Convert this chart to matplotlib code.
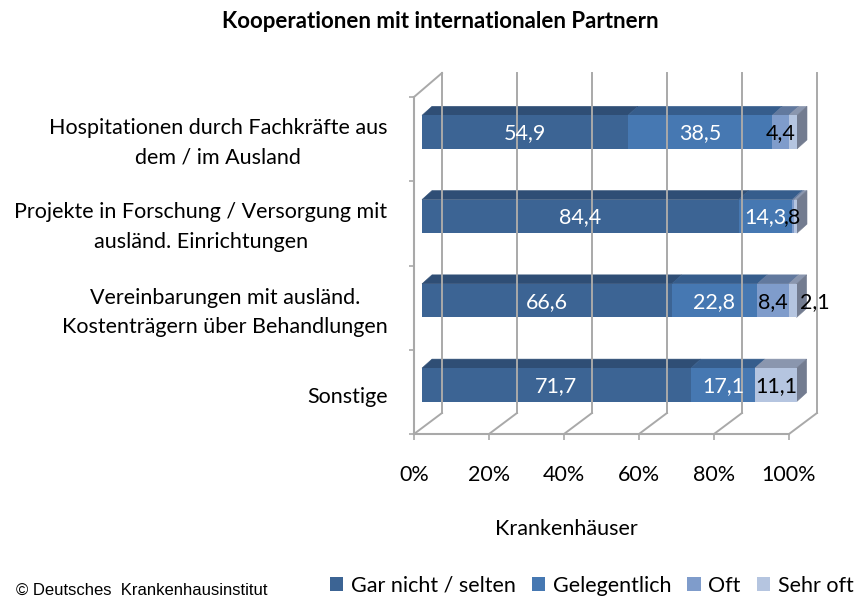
import matplotlib
matplotlib.use("Agg")
import matplotlib.pyplot as plt
from matplotlib.patches import Polygon
from matplotlib.lines import Line2D
from matplotlib.transforms import Affine2D, IdentityTransform

plt.rcParams['font.family'] = ['Lato', 'DejaVu Sans']

title = "Kooperationen mit internationalen Partnern"
categories = ["Hospitationen durch Fachkräfte aus\ndem / im Ausland",
              "Projekte in Forschung / Versorgung mit\nausländ. Einrichtungen",
              "Vereinbarungen mit ausländ.\nKostenträgern über Behandlungen",
              "Sonstige"]
series_names = ["Gar nicht / selten", "Gelegentlich", "Oft", "Sehr oft"]
gar_nicht = [54.9, 84.4, 66.6, 71.7]
gelegentlich = [38.5, 14.3, 22.8, 17.1]
oft = [4.4, 0.5, 8.4, 0.0]
sehr_oft = [2.2, 0.8, 2.1, 11.1]
series = [gar_nicht, gelegentlich, oft, sehr_oft]
labels = [["54,9", "84,4", "66,6", "71,7"],
          ["38,5", "14,3", "22,8", "17,1"],
          ["4,4", "", "8,4", ""],
          ["", ",8", "2,1", "11,1"]]
label_colors = ["white", "white", "black", "black"]
label_shift_px = {(3, 2): 22, (3, 1): -3}
category_label_nudge = [-0.04, -0.035, -0.025, 0.035]
xticks = [0, 20, 40, 60, 80, 100]
xticklabels = ["0%", "20%", "40%", "60%", "80%", "100%"]

front = ["#3C6494", "#4678B2", "#7F9CCB", "#B5C5E0"]
top = ["#2F4E75", "#365D8C", "#62799E", "#8A96AE"]
side = "#737C90"
grid = "#A9A9A9"
W, H = 857, 598
FS = 15.5

fig = plt.figure(figsize=(W / 100, H / 100), dpi=100)
ax = fig.add_axes([414 / W, 1 - 434 / H, 375 / W, 337 / H])
ax.set_xlim(0, 100)
ax.set_ylim(3.5, -0.5)
for s in ("top", "right"):
    ax.spines[s].set_visible(False)
for s in ("left", "bottom"):
    ax.spines[s].set_color(grid)
    ax.spines[s].set_linewidth(1.5)

# px offsets of the 3D projection
BAR_DX, BAR_DY = 8, 7
DEPTH_DX, DEPTH_DY = 10, 9
WALL_DX, WALL_DY = 28, 21
bar_h = 0.398


def disp(x, y):
    return ax.transData.transform((x, y))


# back wall and floor
for t in xticks:
    x0, y0 = disp(t, 3.5)
    _, y1 = disp(t, -0.5)
    fig.add_artist(Line2D([x0 / W, (x0 + WALL_DX) / W], [y0 / H, (y0 + WALL_DY) / H],
                          color=grid, lw=1.4, transform=fig.transFigure, zorder=1))
    fig.add_artist(Line2D([(x0 + WALL_DX) / W] * 2, [(y0 + WALL_DY) / H, (y1 + 24) / H],
                          color=grid, lw=1.4, transform=fig.transFigure, zorder=1))
x0, y1 = disp(0, -0.5)
fig.add_artist(Line2D([x0 / W, (x0 + WALL_DX) / W], [y1 / H, (y1 + 24) / H],
                      color=grid, lw=1.4, transform=fig.transFigure, zorder=1))
ax.patch.set_alpha(0)

shift = ax.transData + Affine2D().translate(BAR_DX, BAR_DY)
pos = list(range(len(categories)))
left = [0.0] * len(pos)
for k, vals in enumerate(series):
    bars = ax.barh(pos, vals, left=left, height=bar_h, color=front[k], label=series_names[k],
                   transform=shift, zorder=3, clip_on=False)
    for i, (v, l) in enumerate(zip(vals, left)):
        if v <= 0:
            continue
        xa, ya = shift.transform((l, i - bar_h / 2))
        xb, _ = shift.transform((l + v, i - bar_h / 2))
        ax.add_patch(Polygon([(xa, ya), (xb, ya), (xb + DEPTH_DX, ya + DEPTH_DY), (xa + DEPTH_DX, ya + DEPTH_DY)],
                             closed=True, fc=top[k], ec=top[k], lw=0.4, transform=IdentityTransform(),
                             zorder=2.9, clip_on=False))
        if labels[k][i]:
            xc, yc = shift.transform((l + v / 2, i))
            xc += label_shift_px.get((k, i), 0)
            fig.text(xc / W, (yc - 1) / H, labels[k][i], color=label_colors[k], fontsize=FS,
                     ha="center", va="center", zorder=10)
    left = [a + b for a, b in zip(left, vals)]

for i in pos:
    xr, yt = shift.transform((left[i], i - bar_h / 2))
    _, yb = shift.transform((left[i], i + bar_h / 2))
    ax.add_patch(Polygon([(xr, yt), (xr + DEPTH_DX, yt + DEPTH_DY), (xr + DEPTH_DX, yb + DEPTH_DY), (xr, yb)],
                         closed=True, fc=side, ec=side, lw=0.4, transform=IdentityTransform(),
                         zorder=2.9, clip_on=False))

ax.set_xticks(xticks)
ax.set_xticklabels(xticklabels, fontsize=FS, color="black")
ax.tick_params(axis="x", length=4.5, width=1.2, color=grid, pad=18)
ax.set_yticks([-0.5, 0.5, 1.5, 2.5, 3.5])
ax.set_yticklabels([])
ax.tick_params(axis="y", which="major", length=3.5, width=1.2, color=grid)
ax.set_yticks([p + n for p, n in zip(pos, category_label_nudge)], minor=True)
ax.set_yticklabels(categories, minor=True, fontsize=FS, ma="center", ha="right", linespacing=1.6)
ax.tick_params(axis="y", which="minor", length=0, pad=19)
ax.set_xlabel("Krankenhäuser", fontsize=FS)
ax.xaxis.set_label_coords((566 - 414) / 375, -(529 - 434) / 337)
ax.xaxis.label.set_va("center")

fig.text(440 / W, 1 - 22 / H, title, fontsize=16, fontweight="bold", ha="center", va="center")
fig.text(16 / W, 1 - 590 / H, "© Deutsches  Krankenhausinstitut", fontsize=12,
         family="Liberation Sans", ha="left", va="center")

handles, names = ax.get_legend_handles_labels()
fig.legend(handles, names, loc="center left", bbox_to_anchor=(330 / W, 1 - 586 / H), ncol=4,
           frameon=False, fontsize=FS, handlelength=0.62, handleheight=0.62, handletextpad=0.35,
           columnspacing=0.75, borderpad=0, borderaxespad=0)

fig.savefig("out.png", dpi=100)
